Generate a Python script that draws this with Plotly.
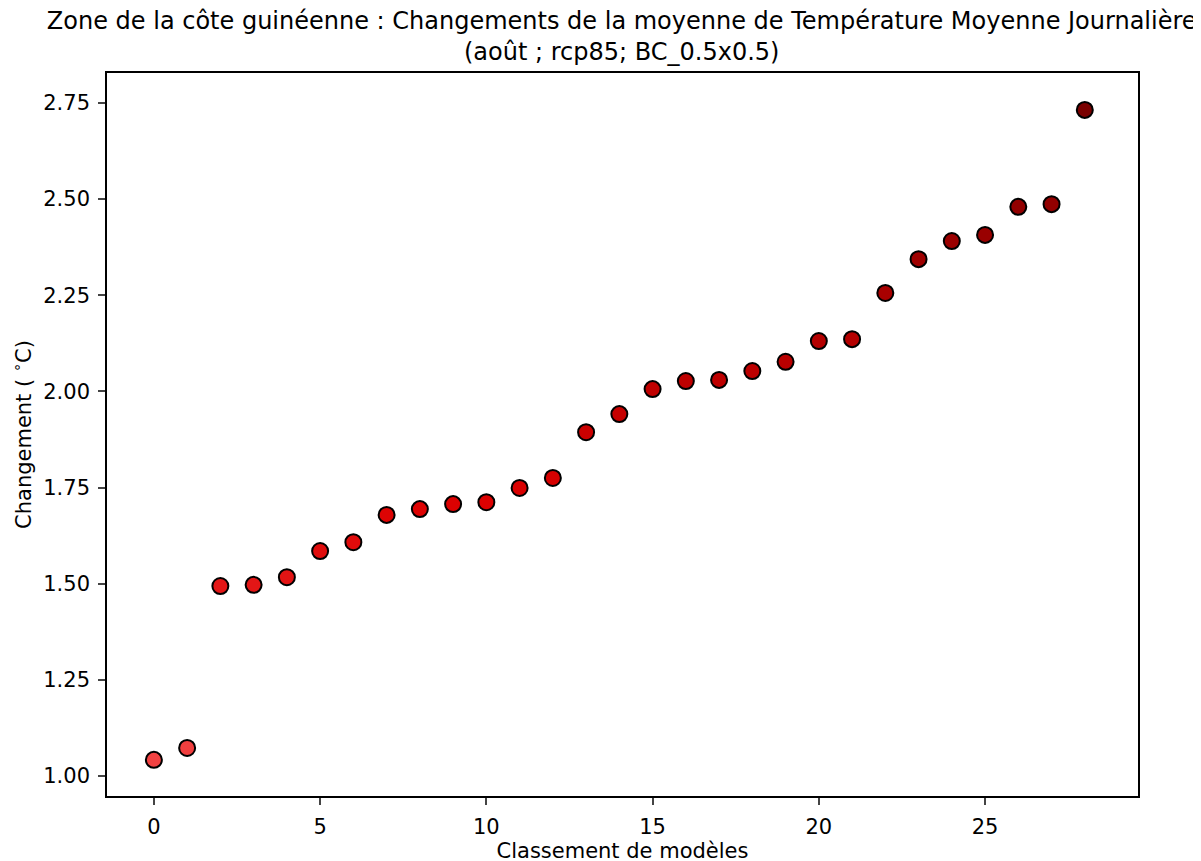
import plotly.graph_objects as go

ranks = list(range(29))
changes = [1.042, 1.073, 1.494, 1.497, 1.517, 1.585, 1.608, 1.679, 1.694, 1.707,
           1.712, 1.749, 1.775, 1.894, 1.941, 2.006, 2.027, 2.030, 2.053, 2.077,
           2.131, 2.136, 2.256, 2.344, 2.391, 2.407, 2.480, 2.487, 2.732]
title_text = ("Zone de la côte guinéenne : Changements de la moyenne de Température Moyenne Journalière"
              "<br>(août ; rcp85; BC_0.5x0.5)")
x_title = "Classement de modèles"
y_title = "Changement ( <sup>∘</sup>C)"
y_ticks = [1.00, 1.25, 1.50, 1.75, 2.00, 2.25, 2.50, 2.75]
x_ticks = [0, 5, 10, 15, 20, 25]

fig = go.Figure(go.Scatter(
    x=ranks, y=changes, mode="markers",
    marker=dict(size=16, color=changes,
                colorscale=[[0, "#f24242"], [0.4, "#dc0000"], [1, "#7a0000"]],
                line=dict(color="black", width=2)),
    showlegend=False,
))

font = "DejaVu Sans, sans-serif"
fig.update_layout(
    width=1201, height=861,
    paper_bgcolor="white", plot_bgcolor="white",
    margin=dict(l=99, r=71, t=65, b=73),
    font=dict(family=font, size=21, color="black"),
    title=dict(text=title_text, x=0.511, xanchor="center", xref="container",
               yref="container", y=0.976, yanchor="top",
               font=dict(family=font, size=24, color="black")),
    xaxis=dict(range=[-1.41, 29.6], tickvals=x_ticks, ticks="outside", ticklen=7,
               tickwidth=1.6, ticklabelstandoff=4, automargin=False,
               showgrid=False, zeroline=False, showline=True, linecolor="black",
               linewidth=1.6, mirror=True, tickfont=dict(size=21),
               title=dict(text=x_title, font=dict(size=21), standoff=5)),
    yaxis=dict(range=[0.948, 2.828], tickvals=y_ticks, tickformat=".2f", ticks="outside",
               ticklen=7, tickwidth=1.6, ticklabelstandoff=4, automargin=False,
               showgrid=False, zeroline=False, showline=True, linecolor="black",
               linewidth=1.6, mirror=True, tickfont=dict(size=21),
               title=dict(text=y_title, font=dict(size=21), standoff=11)),
)
fig.write_html("out.html")
